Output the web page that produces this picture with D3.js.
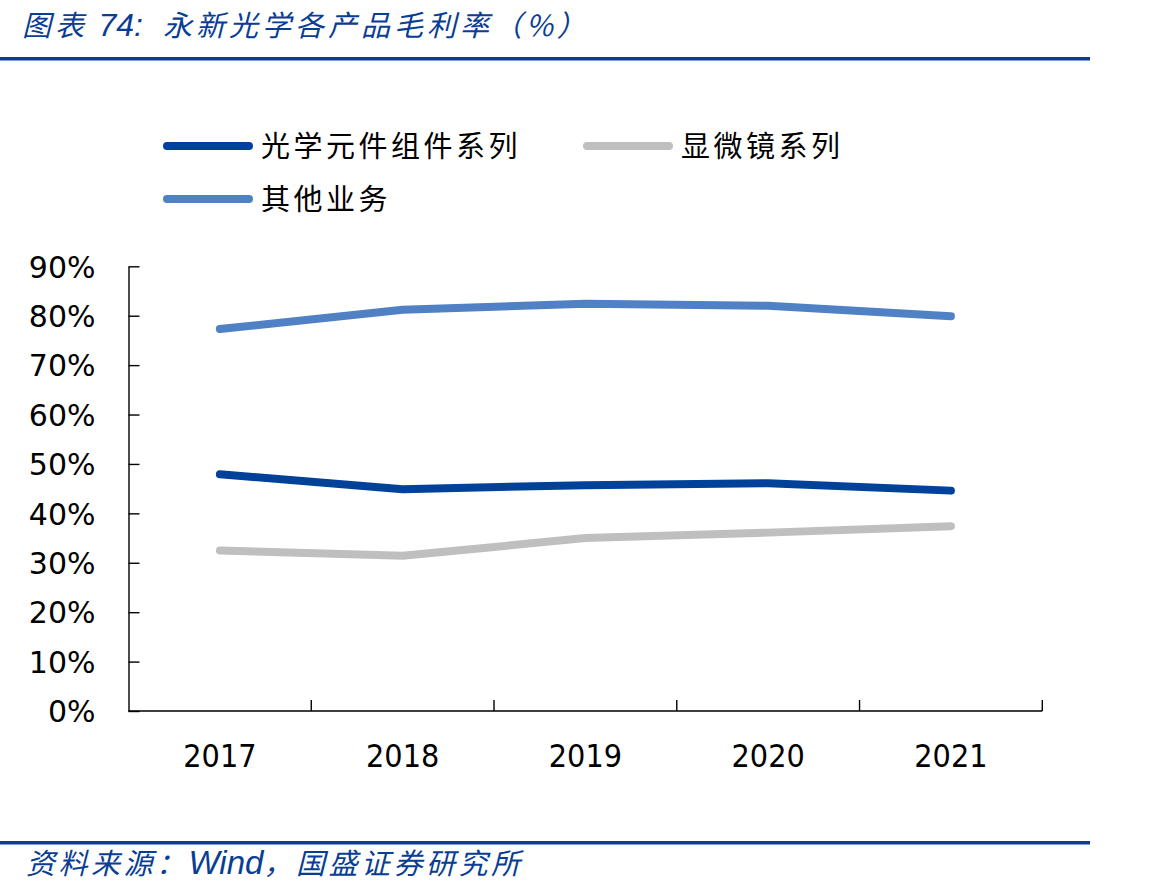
<!DOCTYPE html>
<html><head><meta charset="utf-8">
<script src="https://cdn.jsdelivr.net/npm/d3@7"></script>
<style>body{margin:0;background:#fff}</style>
</head><body>
<svg id="c" width="1170" height="895"></svg>
<script>
const years = ["2017","2018","2019","2020","2021"];
const optical = [47.9, 44.9, 45.7, 46.1, 44.6];
const microscope = [32.5, 31.4, 35.0, 36.1, 37.4];
const other = [77.3, 81.2, 82.4, 82.0, 79.9];
const seriesNames = ["光学元件组件系列", "显微镜系列", "其他业务"];
const yTicks = [0,10,20,30,40,50,60,70,80,90];

const colors = ["#00419a", "#bfbfbf", "#4f81c4"];
const svg = d3.select("#c");
const blue = "#0a3d94";

// title
const t = svg.append("text").attr("x", 22).attr("y", 36)
  .attr("font-family", "'Noto Sans CJK SC'").attr("font-size", 29)
  .attr("font-style", "italic").attr("fill", blue).attr("letter-spacing", 4);
t.append("tspan").text("图表 ");
t.append("tspan").attr("font-family", "'Liberation Sans'").attr("font-size", 32).attr("letter-spacing", 0).text("74:");
t.append("tspan").attr("dx", 20).text("永新光学各产品毛利率（%）");
svg.append("rect").attr("x", 0).attr("y", 57).attr("width", 1090).attr("height", 3.5).attr("fill", "#0a3d94");

// footer
svg.append("rect").attr("x", 0).attr("y", 841).attr("width", 1090).attr("height", 3.5).attr("fill", "#0a3d94");
const f = svg.append("text").attr("x", 26).attr("y", 874)
  .attr("font-family", "'Noto Sans CJK SC'").attr("font-size", 29)
  .attr("font-style", "italic").attr("fill", blue).attr("letter-spacing", 3.5);
f.append("tspan").text("资料来源：");
f.append("tspan").attr("font-family", "'Liberation Sans'").attr("font-size", 33).attr("letter-spacing", 0).text("Wind");
f.append("tspan").text("，国盛证券研究所");

const x = d3.scaleBand().domain(years).range([128.5, 1042.3]);
const y = d3.scaleLinear().domain([0, 90]).range([711, 266.3]);

// y axis
const yAxis = d3.axisLeft(y).tickValues(yTicks).tickSizeInner(-11).tickSizeOuter(0)
  .tickPadding(33).tickFormat(d => d + "%");
const gy = svg.append("g").attr("transform", "translate(128.5,0)").call(yAxis);
gy.selectAll("path,line").attr("stroke", "#000").attr("stroke-width", 1.4);
gy.selectAll("text").attr("font-family", "'DejaVu Sans'").attr("font-size", 30).attr("fill", "#000").attr("dy", "0.36em");

// x axis
const gx = svg.append("g");
gx.append("line").attr("x1", x.range()[0]).attr("x2", x.range()[1]).attr("y1", y(0)).attr("y2", y(0))
  .attr("stroke", "#000").attr("stroke-width", 1.4);
const bounds = years.map(d => x(d) + x.bandwidth());
gx.selectAll("line.t").data(bounds).join("line").attr("class", "t")
  .attr("x1", d => d).attr("x2", d => d).attr("y1", y(0)).attr("y2", y(0) - 11)
  .attr("stroke", "#000").attr("stroke-width", 1.4);
gx.selectAll("text").data(years).join("text")
  .attr("x", d => x(d) + x.bandwidth() / 2).attr("y", 767)
  .attr("text-anchor", "middle").attr("font-family", "'DejaVu Sans Condensed','DejaVu Sans'")
  .attr("font-size", 32).attr("fill", "#000").text(d => d);

// lines
const data = [optical, microscope, other];
const line = d3.line().x((d, i) => x(years[i]) + x.bandwidth() / 2).y(d => y(d));
svg.selectAll("path.s").data(data).join("path").attr("class", "s")
  .attr("d", line).attr("fill", "none").attr("stroke", (d, i) => colors[i])
  .attr("stroke-width", 8).attr("stroke-linecap", "round").attr("stroke-linejoin", "round");

// legend
const legPos = [[167, 146], [587, 146], [167, 199]];
const lg = svg.selectAll("g.leg").data(seriesNames).join("g").attr("class", "leg")
  .attr("transform", (d, i) => `translate(${legPos[i][0]},${legPos[i][1]})`);
lg.append("line").attr("x1", 0).attr("x2", 82).attr("y1", 0).attr("y2", 0)
  .attr("stroke", (d, i) => colors[i]).attr("stroke-width", 8).attr("stroke-linecap", "round");
lg.append("text").attr("x", 94).attr("y", 11).attr("font-family", "'Noto Sans CJK SC'")
  .attr("font-size", 29).attr("letter-spacing", 3.5).attr("fill", "#000").text(d => d);
</script>
</body></html>
